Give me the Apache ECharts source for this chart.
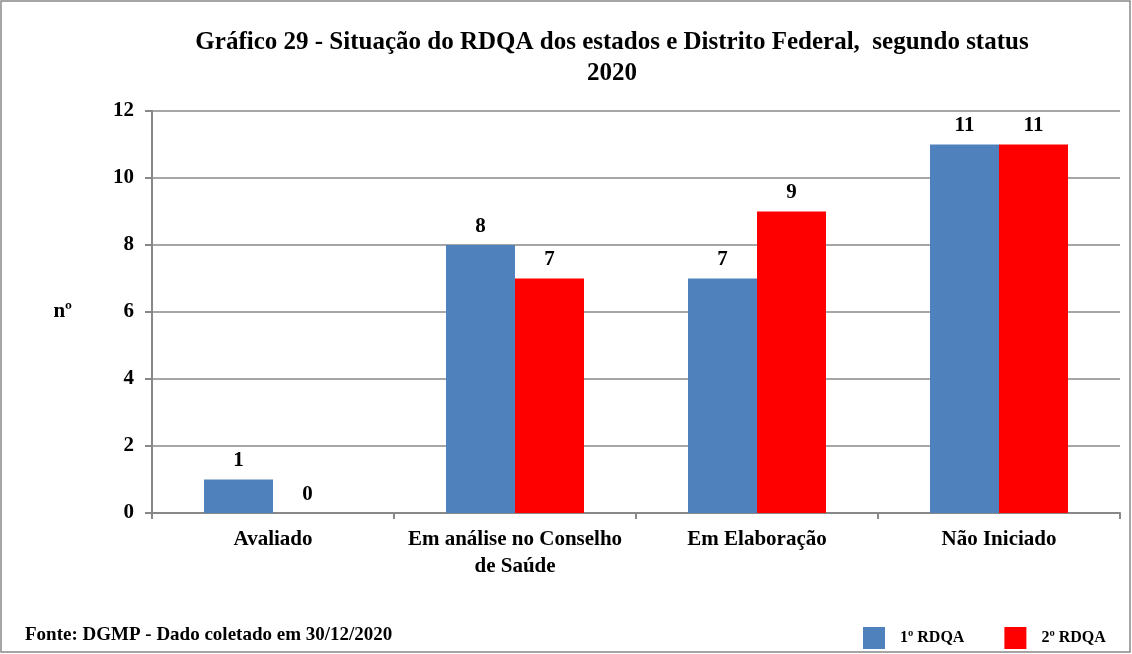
<!DOCTYPE html>
<html>
<head>
<meta charset="utf-8">
<script src="https://cdn.jsdelivr.net/npm/echarts@6/dist/echarts.min.js"></script>
<style>
  html, body { margin: 0; padding: 0; background: #fff; }
  #chart { width: 1132px; height: 654px; }
</style>
</head>
<body>
<div id="chart"></div>
<script>
// dados
var categorias = ['Avaliado', 'Em análise no Conselho\nde Saúde', 'Em Elaboração', 'Não Iniciado'];
var rdqa1 = [1, 8, 7, 11];
var rdqa2 = [0, 7, 9, 11];
var nomesSeries = ['1º RDQA', '2º RDQA'];

var fonte = '"Liberation Serif", "Times New Roman", serif';
var chart = echarts.init(document.getElementById('chart'));

var rotulo = {
    show: true,
    position: 'top',
    distance: 8,
    color: '#000',
    fontFamily: fonte,
    fontWeight: 'bold',
    fontSize: 21
};

chart.setOption({
    backgroundColor: '#fff',
    animation: false,
    title: {
        text: 'Gráfico 29 - Situação do RDQA dos estados e Distrito Federal,  segundo status\n2020',
        left: 607,
        top: 22,
        textAlign: 'center',
        textStyle: {
            fontFamily: fonte,
            fontWeight: 'bold',
            fontSize: 25,
            lineHeight: 31,
            color: '#000'
        }
    },
    legend: {
        data: nomesSeries,
        left: 858,
        top: 622,
        itemWidth: 22,
        itemHeight: 22,
        itemGap: 40,
        icon: 'rect',
        textStyle: {
            fontFamily: fonte,
            fontWeight: 'bold',
            fontSize: 16,
            color: '#000',
            padding: [0, 0, 0, 10]
        }
    },
    grid: {
        left: 152,
        right: 12,
        top: 111,
        bottom: 141,
        containLabel: false
    },
    xAxis: {
        type: 'category',
        data: categorias,
        axisLine: { lineStyle: { color: '#888', width: 2 } },
        axisTick: { show: true, interval: 0, length: 6, lineStyle: { color: '#888', width: 2 } },
        axisLabel: {
            interval: 0,
            color: '#000',
            fontFamily: fonte,
            fontWeight: 'bold',
            fontSize: 21,
            lineHeight: 27,
            margin: 13
        }
    },
    yAxis: {
        type: 'value',
        min: 0,
        max: 12,
        interval: 2,
        name: 'nº',
        nameLocation: 'middle',
        nameRotate: 0,
        nameGap: 80,
        nameTextStyle: {
            color: '#000',
            fontFamily: fonte,
            fontWeight: 'bold',
            fontSize: 21
        },
        axisLine: { show: true, lineStyle: { color: '#888', width: 2 } },
        axisTick: { show: true, length: 7, lineStyle: { color: '#888', width: 2 } },
        splitLine: { lineStyle: { color: '#888', width: 1.5 } },
        axisLabel: {
            color: '#000',
            fontFamily: fonte,
            fontWeight: 'bold',
            fontSize: 21,
            margin: 18
        }
    },
    series: [{
        name: nomesSeries[0],
        type: 'bar',
        data: rdqa1,
        barWidth: 69,
        barGap: '0%',
        itemStyle: { color: '#4f81bd' },
        label: rotulo
    }, {
        name: nomesSeries[1],
        type: 'bar',
        data: rdqa2,
        barWidth: 69,
        itemStyle: { color: '#ff0000' },
        label: rotulo
    }],
    graphic: [{
        type: 'rect',
        shape: { x: 1, y: 1, width: 1129, height: 651 },
        style: { fill: 'none', stroke: '#888', lineWidth: 1.5 }
    }, {
        type: 'text',
        left: 25,
        top: 626,
        style: {
            text: 'Fonte: DGMP - Dado coletado em 30/12/2020',
            fontFamily: fonte,
            fontWeight: 'bold',
            fontSize: 19,
            fill: '#000'
        }
    }]
});
</script>
</body>
</html>
